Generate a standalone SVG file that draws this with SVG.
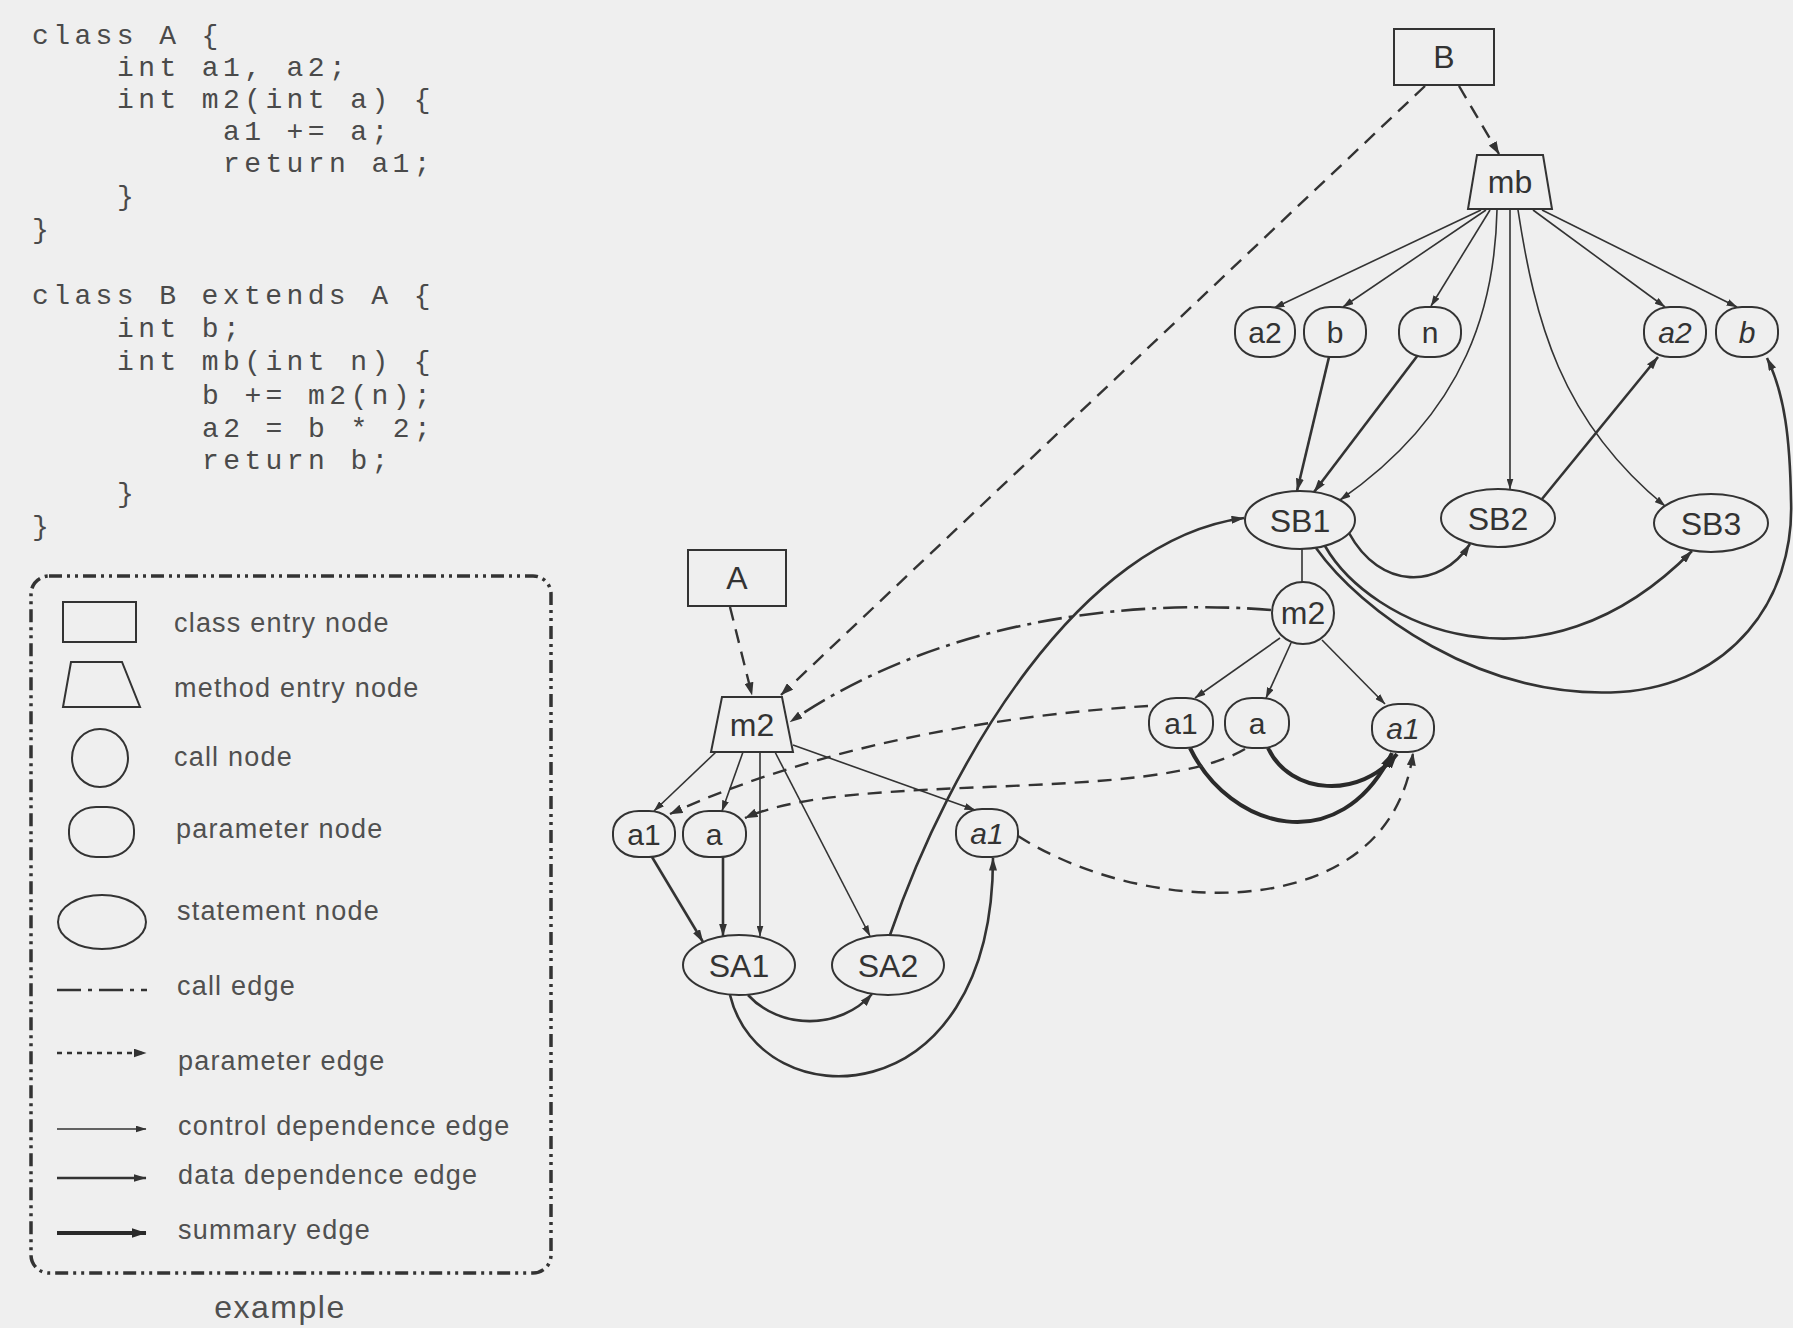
<svg xmlns="http://www.w3.org/2000/svg" width="1793" height="1328" viewBox="0 0 1793 1328">
<style>
.code{font-family:"Liberation Mono","Courier New",monospace;font-size:28px;letter-spacing:4.4px;fill:#4a4a4a}
.leg{font-family:"Liberation Sans",Arial,sans-serif;font-size:27px;letter-spacing:1.2px;fill:#505050}
.lbl{font-family:"Liberation Sans",Arial,sans-serif;font-size:32px;fill:#333;text-anchor:middle}
.plbl{font-family:"Liberation Sans",Arial,sans-serif;font-size:30px;fill:#333;text-anchor:middle}
.it{font-style:italic}
.shape{fill:#efefef;stroke:#333;stroke-width:2}
.ctl{stroke:#333;stroke-width:1.6;fill:none;marker-end:url(#ac)}
.dat{stroke:#333;stroke-width:2.6;fill:none;marker-end:url(#ad)}
.sum{stroke:#2a2a2a;stroke-width:4;fill:none;marker-end:url(#as)}
.par{stroke:#333;stroke-width:2.4;fill:none;stroke-dasharray:14 9;marker-end:url(#ap)}
.call{stroke:#333;stroke-width:2.6;fill:none;stroke-dasharray:24 7 4 7;marker-end:url(#ad)}
.plain{stroke:#333;stroke-width:1.6;fill:none}
</style>
<defs>
<marker id="ac" markerUnits="userSpaceOnUse" markerWidth="11" markerHeight="7" refX="10.5" refY="3.5" orient="auto"><path d="M0,0 L11,3.5 L0,7 z" fill="#333"/></marker>
<marker id="ad" markerUnits="userSpaceOnUse" markerWidth="13" markerHeight="8" refX="12.5" refY="4" orient="auto"><path d="M0,0 L13,4 L0,8 z" fill="#333"/></marker>
<marker id="as" markerUnits="userSpaceOnUse" markerWidth="15" markerHeight="10" refX="14.5" refY="5" orient="auto"><path d="M0,0 L15,5 L0,10 z" fill="#2a2a2a"/></marker>
<marker id="ap" markerUnits="userSpaceOnUse" markerWidth="13" markerHeight="9" refX="12.5" refY="4.5" orient="auto"><path d="M0,0 L13,4.5 L0,9 z" fill="#333"/></marker>
</defs>
<rect x="0" y="0" width="1793" height="1328" fill="#efefef"/>

<g id="code">
<text class="code" x="32" y="44">class A {</text>
<text class="code" x="117" y="76">int a1, a2;</text>
<text class="code" x="117" y="108">int m2(int a) {</text>
<text class="code" x="223" y="140">a1 += a;</text>
<text class="code" x="223" y="172">return a1;</text>
<text class="code" x="117" y="205">}</text>
<text class="code" x="32" y="238">}</text>
<text class="code" x="32" y="304">class B extends A {</text>
<text class="code" x="117" y="337">int b;</text>
<text class="code" x="117" y="370">int mb(int n) {</text>
<text class="code" x="202" y="404">b += m2(n);</text>
<text class="code" x="202" y="437">a2 = b * 2;</text>
<text class="code" x="202" y="469">return b;</text>
<text class="code" x="117" y="502">}</text>
<text class="code" x="32" y="535">}</text>
</g>

<g id="legend">
<rect x="31" y="576" width="520" height="697" rx="18" ry="18" fill="none" stroke="#333" stroke-width="3.5" stroke-dasharray="13 5 3 5 3 5"/>
<rect x="63" y="602" width="73" height="40" fill="none" stroke="#333" stroke-width="2"/>
<text class="leg" x="174" y="632">class entry node</text>
<polygon points="71,662 122,662 140,707 63,707" fill="none" stroke="#333" stroke-width="2"/>
<text class="leg" x="174" y="697">method entry node</text>
<ellipse cx="100" cy="758" rx="28" ry="29" fill="none" stroke="#333" stroke-width="2"/>
<text class="leg" x="174" y="766">call node</text>
<rect x="69" y="807" width="65" height="50" rx="27" ry="23" fill="none" stroke="#333" stroke-width="2"/>
<text class="leg" x="176" y="838">parameter node</text>
<ellipse cx="102" cy="922" rx="44" ry="27" fill="none" stroke="#333" stroke-width="2"/>
<text class="leg" x="177" y="920">statement node</text>
<line x1="57" y1="990" x2="147" y2="990" stroke="#333" stroke-width="2.6" stroke-dasharray="24 7 4 7"/>
<text class="leg" x="177" y="995">call edge</text>
<line x1="57" y1="1053" x2="146" y2="1053" stroke="#333" stroke-width="2.4" stroke-dasharray="5 5" marker-end="url(#ap)"/>
<text class="leg" x="178" y="1070">parameter edge</text>
<line x1="57" y1="1129" x2="146" y2="1129" class="ctl"/>
<text class="leg" x="178" y="1135">control dependence edge</text>
<line x1="57" y1="1178" x2="146" y2="1178" class="dat"/>
<text class="leg" x="178" y="1184">data dependence edge</text>
<line x1="57" y1="1233" x2="146" y2="1233" class="sum"/>
<text class="leg" x="178" y="1239">summary edge</text>
<text x="280" y="1318" text-anchor="middle" style="font-family:'Liberation Sans',Arial,sans-serif;font-size:32px;letter-spacing:1.5px;fill:#505050">example</text>
</g>

<g id="edges">
<!-- class membership (dashed) -->
<path class="par" d="M1459,86 L1499,154"/>
<path class="par" d="M1425,86 L781,695"/>
<path class="par" d="M730,607 L752,695"/>
<!-- mb control -->
<path class="ctl" d="M1481,210 L1274,308"/>
<path class="ctl" d="M1486,210 L1343,307"/>
<path class="ctl" d="M1490,210 L1431,306"/>
<path class="ctl" d="M1497,210 C1495,300 1470,410 1340,500"/>
<path class="ctl" d="M1510,210 L1510,489"/>
<path class="ctl" d="M1518,210 C1535,320 1560,420 1665,506"/>
<path class="ctl" d="M1533,210 L1665,307"/>
<path class="ctl" d="M1542,210 L1737,307"/>
<!-- B data -->
<path class="dat" d="M1329,357 L1297,491"/>
<path class="dat" d="M1418,355 L1314,492"/>
<path class="dat" d="M1542,499 L1658,357"/>
<path class="dat" d="M1349,533 C1380,590 1440,590 1470,544"/>
<path class="dat" d="M1325,546 C1370,625 1540,705 1692,551"/>
<path class="dat" d="M1316,548 C1360,610 1480,700 1620,692 C1730,685 1795,600 1791,500 C1790,440 1785,395 1767,358"/>
<path class="plain" d="M1302,549 L1302,582"/>
<!-- call site in mb -->
<path class="ctl" d="M1280,638 L1195,698"/>
<path class="ctl" d="M1291,643 L1266,698"/>
<path class="ctl" d="M1322,640 L1385,704"/>
<path class="sum" d="M1190,748 C1230,830 1340,860 1392,753"/>
<path class="sum" d="M1268,748 C1290,795 1360,800 1397,754"/>
<!-- call edge -->
<path class="call" d="M1271,610 C1150,600 950,612 790,722"/>
<!-- parameter edges -->
<path class="par" d="M1148,706 C1000,715 820,745 670,814"/>
<path class="par" d="M1245,749 C1150,805 850,770 745,818"/>
<path class="par" d="M1018,836 C1150,920 1390,925 1413,753"/>
<!-- m2 (A) control -->
<path class="ctl" d="M716,752 L654,811"/>
<path class="ctl" d="M743,752 L722,811"/>
<path class="ctl" d="M760,752 L760,936"/>
<path class="ctl" d="M775,752 L870,936"/>
<path class="ctl" d="M793,745 L975,810"/>
<!-- A data -->
<path class="dat" d="M652,857 L703,942"/>
<path class="dat" d="M723,857 L723,936"/>
<path class="dat" d="M748,995 C780,1030 840,1030 872,994"/>
<path class="dat" d="M730,995 C760,1120 993,1120 993,858"/>
<path class="dat" d="M890,935 C950,760 1080,540 1244,518"/>
</g>

<g id="n_B"><rect class="shape" x="1394" y="29" width="100" height="56"/><text class="lbl" x="1444" y="68">B</text></g>
<g id="n_mb"><polygon class="shape" points="1477,155 1543,155 1552,209 1468,209"/><text class="lbl" x="1510" y="193">mb</text></g>
<g id="n_a2_in"><rect class="shape" x="1235" y="307" width="60" height="50" rx="25" ry="23"/><text class="plbl" x="1265" y="343">a2</text></g>
<g id="n_b_in"><rect class="shape" x="1304" y="307" width="62" height="50" rx="26" ry="23"/><text class="plbl" x="1335" y="343">b</text></g>
<g id="n_n"><rect class="shape" x="1399" y="307" width="62" height="50" rx="26" ry="23"/><text class="plbl" x="1430" y="343">n</text></g>
<g id="n_a2_out"><rect class="shape" x="1644" y="307" width="62" height="50" rx="26" ry="23"/><text class="plbl it" x="1675" y="343">a2</text></g>
<g id="n_b_out"><rect class="shape" x="1716" y="307" width="62" height="50" rx="26" ry="23"/><text class="plbl it" x="1747" y="343">b</text></g>
<g id="n_SB1"><ellipse class="shape" cx="1300" cy="520" rx="55" ry="29"/><text class="lbl" x="1300" y="532">SB1</text></g>
<g id="n_SB2"><ellipse class="shape" cx="1498" cy="518" rx="57" ry="29"/><text class="lbl" x="1498" y="530">SB2</text></g>
<g id="n_SB3"><ellipse class="shape" cx="1711" cy="523" rx="57" ry="29"/><text class="lbl" x="1711" y="535">SB3</text></g>
<g id="n_m2_call"><circle class="shape" cx="1303" cy="613" r="31"/><text class="lbl" x="1303" y="624">m2</text></g>
<g id="n_a1_ain"><rect class="shape" x="1149" y="698" width="64" height="50" rx="27" ry="23"/><text class="plbl" x="1181" y="734">a1</text></g>
<g id="n_a_ain"><rect class="shape" x="1225" y="698" width="64" height="50" rx="27" ry="23"/><text class="plbl" x="1257" y="734">a</text></g>
<g id="n_a1_aout"><rect class="shape" x="1372" y="704" width="62" height="48" rx="26" ry="22"/><text class="plbl it" x="1403" y="739">a1</text></g>
<g id="n_A"><rect class="shape" x="688" y="550" width="98" height="56"/><text class="lbl" x="737" y="589">A</text></g>
<g id="n_m2"><polygon class="shape" points="722,697 782,697 793,752 711,752"/><text class="lbl" x="752" y="736">m2</text></g>
<g id="n_a1_fin"><rect class="shape" x="613" y="811" width="62" height="46" rx="26" ry="21"/><text class="plbl" x="644" y="845">a1</text></g>
<g id="n_a_fin"><rect class="shape" x="683" y="811" width="63" height="46" rx="26" ry="21"/><text class="plbl" x="714" y="845">a</text></g>
<g id="n_a1_fout"><rect class="shape" x="956" y="809" width="62" height="48" rx="26" ry="22"/><text class="plbl it" x="987" y="844">a1</text></g>
<g id="n_SA1"><ellipse class="shape" cx="739" cy="965" rx="56" ry="30"/><text class="lbl" x="739" y="977">SA1</text></g>
<g id="n_SA2"><ellipse class="shape" cx="888" cy="965" rx="56" ry="30"/><text class="lbl" x="888" y="977">SA2</text></g>
</svg>
